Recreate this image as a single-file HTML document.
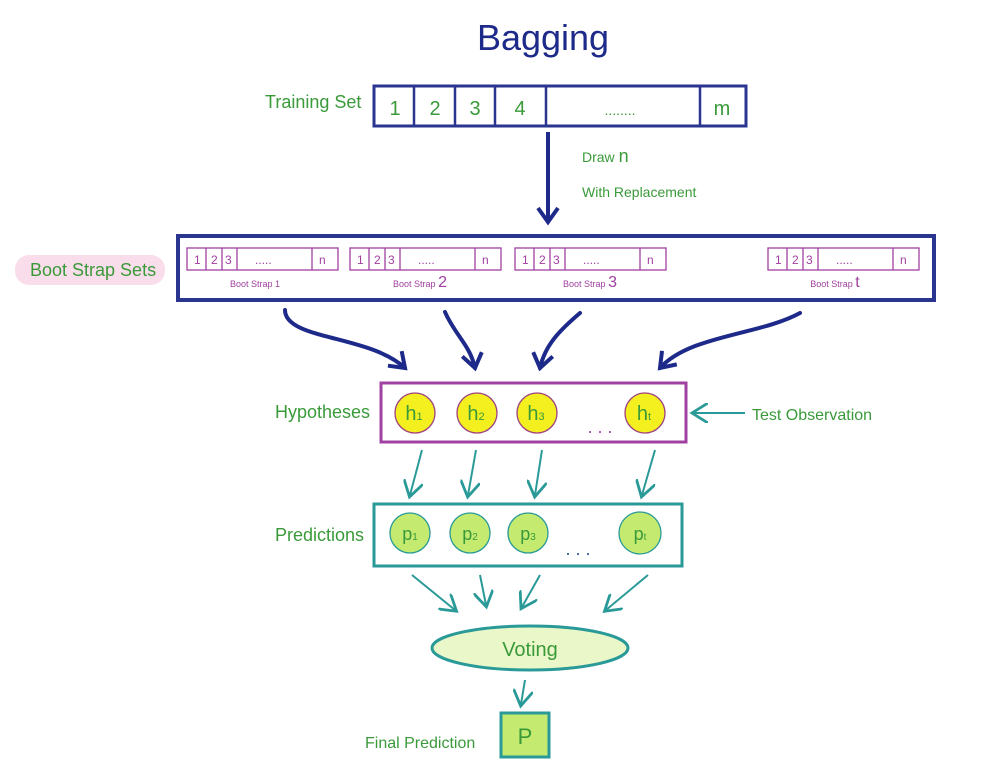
<!DOCTYPE html>
<html><head><style>
body{margin:0;background:#fff}
svg{display:block}
text{font-family:"Liberation Sans",sans-serif}
</style></head><body>
<svg width="983" height="772" viewBox="0 0 983 772" xmlns="http://www.w3.org/2000/svg">
<defs>
<marker id="an" markerWidth="8" markerHeight="8" refX="5" refY="4" orient="auto" markerUnits="userSpaceOnUse"><path d="M0,0 L6,4 L0,8" fill="none" stroke="#1d2a8a" stroke-width="1.6"/></marker>
<marker id="an2" markerWidth="24" markerHeight="24" refX="16" refY="12" orient="auto" markerUnits="userSpaceOnUse"><path d="M2,2 L16,12 L2,22" fill="none" stroke="#1d2a8a" stroke-width="4"/></marker>
<marker id="at" markerWidth="10" markerHeight="10" refX="7" refY="5" orient="auto" markerUnits="strokeWidth"><path d="M0,0 L8,5 L0,10" fill="none" stroke="#2a9a98" stroke-width="1.4"/></marker>
<g id="bs" fill="none" stroke="#a040a0" stroke-width="1.3"><rect x="0" y="0" width="151" height="22"/><line x1="19" y1="0" x2="19" y2="22"/><line x1="35" y1="0" x2="35" y2="22"/><line x1="50" y1="0" x2="50" y2="22"/><line x1="125" y1="0" x2="125" y2="22"/></g>
</defs>
<rect width="983" height="772" fill="#fff"/>
<text x="543" y="50" font-size="36" fill="#1d2a8a" text-anchor="middle">Bagging</text>

<text x="265" y="108" font-size="18" fill="#3a9a3a">Training Set</text>
<rect x="374" y="86" width="372" height="40" fill="none" stroke="#2a3590" stroke-width="3"/>
<g stroke="#2a3590" stroke-width="2.5"><line x1="414" y1="86" x2="414" y2="126"/><line x1="455" y1="86" x2="455" y2="126"/><line x1="495" y1="86" x2="495" y2="126"/><line x1="546" y1="86" x2="546" y2="126"/><line x1="700" y1="86" x2="700" y2="126"/></g>
<g font-size="20" fill="#3a9a3a" text-anchor="middle"><text x="395" y="115">1</text><text x="435" y="115">2</text><text x="475" y="115">3</text><text x="520" y="115">4</text><text x="620" y="115" font-size="14">........</text><text x="722" y="115">m</text></g>

<line x1="548" y1="132" x2="548" y2="222" stroke="#1d2a8a" stroke-width="4" marker-end="url(#an2)"/>
<text x="582" y="162" font-size="14" fill="#3a9a3a">Draw <tspan font-size="18">n</tspan></text>
<text x="582" y="197" font-size="14" fill="#3a9a3a">With Replacement</text>

<rect x="15" y="255" width="150" height="30" rx="14" fill="#f9d9e8" opacity="0.9"/>
<text x="30" y="276" font-size="18" fill="#3a9a3a">Boot Strap Sets</text>
<rect x="178" y="236" width="756" height="64" fill="none" stroke="#2a3590" stroke-width="4"/>
<g font-size="12" fill="#a040a0">
<g transform="translate(187,248)"><use href="#bs"/><text x="7" y="16">1</text><text x="24" y="16">2</text><text x="38" y="16">3</text><text x="68" y="16">.....</text><text x="132" y="16">n</text></g>
<g transform="translate(350,248)"><use href="#bs"/><text x="7" y="16">1</text><text x="24" y="16">2</text><text x="38" y="16">3</text><text x="68" y="16">.....</text><text x="132" y="16">n</text></g>
<g transform="translate(515,248)"><use href="#bs"/><text x="7" y="16">1</text><text x="24" y="16">2</text><text x="38" y="16">3</text><text x="68" y="16">.....</text><text x="132" y="16">n</text></g>
<g transform="translate(768,248)"><use href="#bs"/><text x="7" y="16">1</text><text x="24" y="16">2</text><text x="38" y="16">3</text><text x="68" y="16">.....</text><text x="132" y="16">n</text></g>
</g>
<g font-size="9" fill="#a040a0" text-anchor="middle">
<text x="255" y="287">Boot Strap 1</text><text x="420" y="287">Boot Strap <tspan font-size="16">2</tspan></text><text x="590" y="287">Boot Strap <tspan font-size="16">3</tspan></text><text x="835" y="287">Boot Strap <tspan font-size="16">t</tspan></text>
</g>

<g fill="none" stroke="#1d2a8a" stroke-width="4" stroke-linecap="round">
<path d="M285,310 C285,340 370,335 405,368" marker-end="url(#an2)"/>
<path d="M445,312 C455,335 470,345 475,368" marker-end="url(#an2)"/>
<path d="M580,313 C560,330 545,345 540,368" marker-end="url(#an2)"/>
<path d="M800,313 C760,335 690,335 660,368" marker-end="url(#an2)"/>
</g>

<text x="275" y="418" font-size="18" fill="#3a9a3a">Hypotheses</text>
<rect x="381" y="383" width="305" height="59" fill="none" stroke="#a040a0" stroke-width="3"/>
<g fill="#f4f020" stroke="#a04080" stroke-width="1.3">
<circle cx="415" cy="413" r="20"/><circle cx="477" cy="413" r="20"/><circle cx="537" cy="413" r="20"/><circle cx="645" cy="413" r="20"/></g>
<g font-size="20" fill="#3a9a3a" text-anchor="middle"><text x="414" y="420">h<tspan font-size="11">1</tspan></text><text x="476" y="420">h<tspan font-size="11">2</tspan></text><text x="536" y="420">h<tspan font-size="11">3</tspan></text><text x="644" y="420">h<tspan font-size="11">t</tspan></text></g>
<text x="600" y="433" font-size="18" fill="#a040a0" text-anchor="middle">. . .</text>
<line x1="745" y1="413" x2="694" y2="413" stroke="#2a9a98" stroke-width="2" marker-end="url(#at)"/>
<text x="752" y="420" font-size="16" fill="#3a9a3a">Test Observation</text>

<g stroke="#2a9a98" stroke-width="2" fill="none">
<line x1="422" y1="450" x2="410" y2="495" marker-end="url(#at)"/>
<line x1="476" y1="450" x2="468" y2="495" marker-end="url(#at)"/>
<line x1="542" y1="450" x2="535" y2="495" marker-end="url(#at)"/>
<line x1="655" y1="450" x2="642" y2="495" marker-end="url(#at)"/>
</g>

<text x="275" y="541" font-size="18" fill="#3a9a3a">Predictions</text>
<rect x="374" y="504" width="308" height="62" fill="none" stroke="#2a9a98" stroke-width="3"/>
<g fill="#c4ea70" stroke="#2a9a98" stroke-width="1.3">
<circle cx="410" cy="533" r="20"/><circle cx="470" cy="533" r="20"/><circle cx="528" cy="533" r="20"/><circle cx="640" cy="533" r="21"/></g>
<g font-size="18" fill="#3a9a3a" text-anchor="middle"><text x="410" y="540">p<tspan font-size="10">1</tspan></text><text x="470" y="540">p<tspan font-size="10">2</tspan></text><text x="528" y="540">p<tspan font-size="10">3</tspan></text><text x="640" y="540">p<tspan font-size="10">t</tspan></text></g>
<text x="578" y="555" font-size="18" fill="#2a5a9a" text-anchor="middle">. . .</text>

<g stroke="#2a9a98" stroke-width="2" fill="none">
<line x1="412" y1="575" x2="455" y2="610" marker-end="url(#at)"/>
<line x1="480" y1="575" x2="486" y2="605" marker-end="url(#at)"/>
<line x1="540" y1="575" x2="522" y2="607" marker-end="url(#at)"/>
<line x1="648" y1="575" x2="606" y2="610" marker-end="url(#at)"/>
</g>

<ellipse cx="530" cy="648" rx="98" ry="22" fill="#eaf7c8" stroke="#2a9a98" stroke-width="3"/>
<text x="530" y="656" font-size="20" fill="#3a9a3a" text-anchor="middle">Voting</text>
<line x1="525" y1="680" x2="521" y2="704" stroke="#2a9a98" stroke-width="2" marker-end="url(#at)"/>
<text x="365" y="748" font-size="16" fill="#3a9a3a">Final Prediction</text>
<rect x="501" y="713" width="48" height="44" fill="#c4ea70" stroke="#2a9a98" stroke-width="3"/>
<text x="525" y="744" font-size="22" fill="#3a9a3a" text-anchor="middle">P</text>
</svg>
</body></html>
